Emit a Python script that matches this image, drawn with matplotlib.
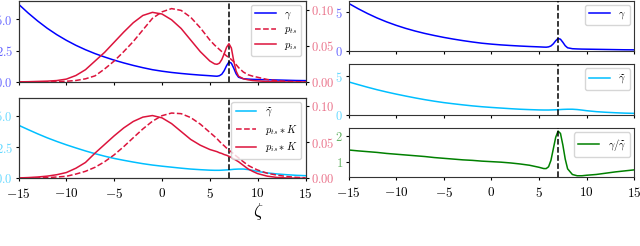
import matplotlib
matplotlib.use('Agg')
import matplotlib.pyplot as plt

# =============================================================================
# font / style
# =============================================================================
plt.rcParams['font.family'] = 'serif'
plt.rcParams['font.serif'] = ['cmr10']
plt.rcParams['mathtext.fontset'] = 'cm'
plt.rcParams['axes.formatter.use_mathtext'] = True
plt.rcParams['axes.unicode_minus'] = True
plt.rcParams['font.size'] = 7.5
plt.rcParams['xtick.labelsize'] = 9.5
plt.rcParams['ytick.labelsize'] = 9
plt.rcParams['ytick.major.size'] = 2.5
plt.rcParams['ytick.major.pad'] = 1.5
plt.rcParams['xtick.major.size'] = 2.5
plt.rcParams['axes.edgecolor'] = '0.2'

# =============================================================================
# data
# =============================================================================
zeta = [-15, -14, -13, -12, -11, -10, -9, -8, -7, -6, -5, -4, -3, -2, -1,
        0, 1, 2, 3, 4, 5,
        5.5, 5.75, 6, 6.25, 6.5, 6.75, 7, 7.25, 7.5, 7.75, 8, 8.5, 9, 9.5,
        10, 11, 12, 13, 14, 15]

gamma = [6.2, 5.5, 4.86, 4.28, 3.77, 3.32, 2.92, 2.57, 2.26, 1.99, 1.74, 1.52, 1.32, 1.14, 0.98,
         0.86, 0.76, 0.68, 0.61, 0.55, 0.5,
         0.47, 0.46, 0.5, 0.62, 0.9, 1.3, 1.6, 1.5, 1.1, 0.65, 0.38, 0.26, 0.23, 0.21,
         0.2, 0.18, 0.16, 0.14, 0.12, 0.11]

gamma_t = [4.25, 3.9, 3.56, 3.24, 2.95, 2.68, 2.43, 2.19, 1.97, 1.77, 1.59, 1.44, 1.3, 1.17, 1.06,
           0.97, 0.89, 0.81, 0.74, 0.69, 0.65,
           0.64, 0.64, 0.64, 0.65, 0.66, 0.67, 0.68, 0.7, 0.72, 0.73, 0.74, 0.74, 0.7, 0.63,
           0.55, 0.43, 0.35, 0.29, 0.24, 0.21]

ratio = [1.455, 1.42, 1.39, 1.36, 1.32, 1.29, 1.26, 1.23, 1.2, 1.16, 1.13, 1.1, 1.07, 1.05, 1.02,
         1.0, 0.98, 0.95, 0.91, 0.86, 0.78,
         0.73, 0.73, 0.8, 1.05, 1.5, 1.95, 2.19, 2.1, 1.65, 1.1, 0.72, 0.5, 0.45, 0.45,
         0.47, 0.5, 0.55, 0.6, 0.64, 0.68]

p_ts = [0.0, 0.00002, 0.00006, 0.00015, 0.0004, 0.001, 0.0021, 0.0044, 0.0085, 0.018, 0.029, 0.042, 0.056, 0.072, 0.088,
        0.097, 0.1015, 0.099, 0.0895, 0.075, 0.058,
        0.051, 0.048, 0.045, 0.042, 0.039, 0.036, 0.034, 0.031, 0.028, 0.024, 0.02, 0.0138, 0.010, 0.008,
        0.0065, 0.0035, 0.0018, 0.0009, 0.0004, 0.0002]

p_is = [0.0002, 0.0004, 0.0008, 0.0012, 0.002, 0.004, 0.009, 0.017, 0.029, 0.041, 0.055, 0.069, 0.082, 0.092, 0.0963,
        0.094, 0.086, 0.074, 0.058, 0.042, 0.029,
        0.025, 0.0245, 0.026, 0.031, 0.039, 0.048, 0.053, 0.047, 0.029, 0.015, 0.008, 0.0045, 0.003, 0.002,
        0.0015, 0.0007, 0.0003, 0.0001, 0.0, 0.0]

p_ts_K = [0.0001, 0.0002, 0.0005, 0.0009, 0.0018, 0.0028, 0.0059, 0.0097, 0.0153, 0.023, 0.0326, 0.044, 0.0564, 0.0686, 0.0793,
          0.087, 0.0907, 0.0898, 0.0844, 0.0753, 0.0638,
          0.058, 0.055, 0.0514, 0.048, 0.0452, 0.042, 0.0392, 0.0365, 0.034, 0.031, 0.0285, 0.023, 0.018, 0.0145,
          0.0115, 0.007, 0.0045, 0.0025, 0.0013, 0.0007]

p_is_K = [0.0005, 0.001, 0.0018, 0.003, 0.005, 0.008, 0.014, 0.022, 0.035, 0.047, 0.059, 0.07, 0.079, 0.085, 0.0872,
          0.084, 0.076, 0.065, 0.054, 0.046, 0.040,
          0.038, 0.037, 0.0355, 0.0345, 0.033, 0.032, 0.0305, 0.029, 0.027, 0.025, 0.023, 0.018, 0.013, 0.0095,
          0.0065, 0.003, 0.0012, 0.0005, 0.0002, 0.0001]

ZETA_MARK = 7

# =============================================================================
# colours
# =============================================================================
BLUE = '#0000ff'
CYAN = '#00bfff'
RED = '#dc143c'
GREEN = '#008000'
BLUE_LBL = '#6666ff'
CYAN_LBL = '#66d9ff'
RED_LBL = '#ea728a'
GREEN_LBL = '#66b366'

# =============================================================================
# figure / axes placement
# =============================================================================
fig = plt.figure(figsize=(6.4, 2.46), dpi=100)
W, H = 640.0, 246.0

def add_ax(x0, x1, top, bottom):
    return fig.add_axes([x0 / W, 1 - bottom / H, (x1 - x0) / W, (bottom - top) / H])

ax_tl = add_ax(18.5, 305.5, 1, 82)
ax_bl = add_ax(18.5, 305.5, 97.7, 178.3)
ax_r1 = add_ax(348.5, 634.3, 1, 50.7)
ax_r2 = add_ax(348.5, 634.3, 64.3, 115)
ax_r3 = add_ax(348.5, 634.3, 128.3, 177.3)

def mark_line(ax):
    ax.axvline(ZETA_MARK, color='k', linestyle='--', linewidth=1.1, zorder=5)

def left_panel(ax, g, g_color, g_lbl_color, g_label, pts, pis, ts_label, is_label, show_x):
    ax.plot(zeta, g, color=g_color, linewidth=1.1, label=g_label)
    ax.set_xlim(-15, 15)
    ax.set_ylim(0, 6.45)
    ax.set_yticks([0, 2.5, 5.0])
    ax.tick_params(axis='y', labelcolor=g_lbl_color)
    ax.set_xticks([-15, -10, -5, 0, 5, 10, 15])
    if not show_x:
        ax.tick_params(axis='x', labelbottom=False)
    mark_line(ax)

    ax2 = ax.twinx()
    ax2.plot(zeta, pts, color=RED, linestyle='--', linewidth=1.1, label=ts_label)
    ax2.plot(zeta, pis, color=RED, linewidth=1.1, label=is_label)
    ax2.set_ylim(0, 0.112)
    ax2.set_yticks([0, 0.05, 0.10])
    ax2.tick_params(axis='y', labelcolor=RED_LBL)

    h1, l1 = ax.get_legend_handles_labels()
    h2, l2 = ax2.get_legend_handles_labels()
    ax2.legend(h1 + h2, l1 + l2, loc='upper right', fontsize=7.5,
               handlelength=2.0, borderaxespad=0.4, labelspacing=0.35)

left_panel(ax_tl, gamma, BLUE, BLUE_LBL, r'$\gamma$', p_ts, p_is,
           r'$p_{ts}$', r'$p_{is}$', show_x=False)
left_panel(ax_bl, gamma_t, CYAN, CYAN_LBL, r'$\widetilde{\gamma}$', p_ts_K, p_is_K,
           r'$p_{ts} * K$', r'$p_{is} * K$', show_x=True)

def right_panel(ax, y, color, lbl_color, label, ylim, yticks, show_x):
    ax.plot(zeta, y, color=color, linewidth=1.1, label=label)
    ax.set_xlim(-15, 15)
    ax.set_ylim(*ylim)
    ax.set_yticks(yticks)
    ax.tick_params(axis='y', labelcolor=lbl_color)
    ax.set_xticks([-15, -10, -5, 0, 5, 10, 15])
    if not show_x:
        ax.tick_params(axis='x', labelbottom=False)
    mark_line(ax)
    ax.legend(loc='upper right', fontsize=7.5, handlelength=2.0, borderaxespad=0.4)

right_panel(ax_r1, gamma, BLUE, BLUE_LBL, r'$\gamma$', (0, 6.5), [0, 5], False)
right_panel(ax_r2, gamma_t, CYAN, CYAN_LBL, r'$\widetilde{\gamma}$', (0, 6.5), [0, 5], False)
right_panel(ax_r3, ratio, GREEN, GREEN_LBL, r'$\gamma/\widetilde{\gamma}$', (0.39, 2.3), [1, 2], True)

# x-axis symbol
fig.text(258 / W, 1 - 212 / H, r'$\zeta$', fontsize=13, ha='center', va='center')

fig.savefig('out.png', dpi=100, facecolor='white')
